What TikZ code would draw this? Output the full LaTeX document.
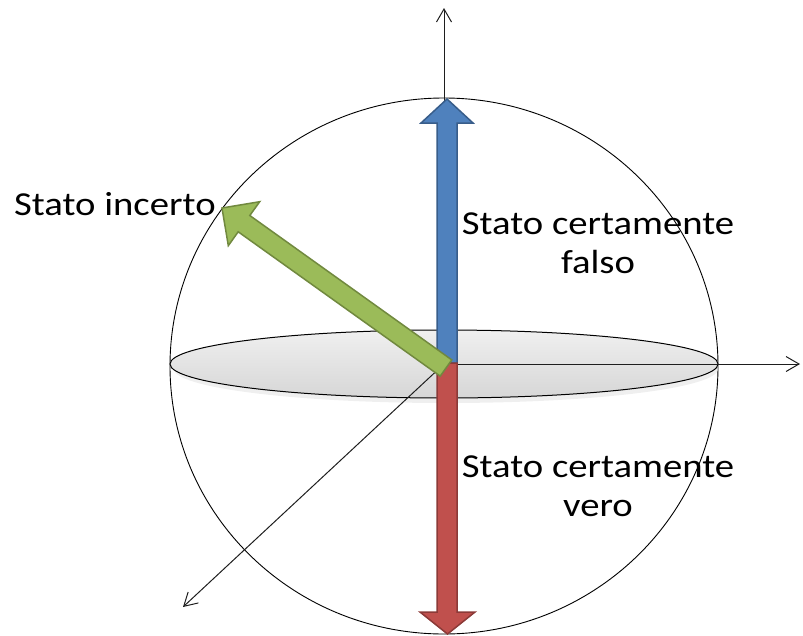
\documentclass[tikz,border=0pt]{standalone}
\usepackage{fontspec}
\setmainfont{Carlito}[FakeStretch=1.155]
\usetikzlibrary{arrows.meta,shadows}
\definecolor{bfill}{RGB}{79,129,189}
\definecolor{bdraw}{RGB}{56,93,138}
\definecolor{rfill}{RGB}{192,80,77}
\definecolor{rdraw}{RGB}{140,58,56}
\definecolor{gfill}{RGB}{155,187,89}
\definecolor{gdraw}{RGB}{113,137,63}
\definecolor{axcol}{RGB}{30,30,30}
\tikzset{
  axisline/.style={draw=axcol, line width=1pt, -{Straight Barb[length=13pt,width=15pt,line width=1pt]}},
  fatarrow/.style={line width=1.5pt, line join=miter},
  lbl/.style={inner sep=0pt, font=\fontsize{33.5}{39}\selectfont, text=black},
}
\begin{document}
\begin{tikzpicture}[x=1pt,y=-1pt]
\useasboundingbox (0,0) rectangle (803,635);
\coordinate (O) at (444,364);
\coordinate (top) at (444,8);
\coordinate (right) at (800,364);
\coordinate (diag) at (183,607);
% sphere
\draw[line width=0.9pt] (444,366) ellipse [x radius=274, y radius=268];
% disk
\fill[gray!25, opacity=0.5] (446,369) ellipse [x radius=272, y radius=34];
\draw[line width=1pt, top color=gray!12, bottom color=gray!32] (O) ellipse [x radius=274, y radius=34];
% axes
\draw[axisline] (O) -- (top);
\draw[axisline] (O) -- (right);
\draw[axisline] (O) -- (diag);
% blue arrow
\filldraw[fatarrow, fill=bfill, draw=bdraw] (437,363) -- (437,123) -- (421,123) -- (447,99) -- (473,123) -- (457,123) -- (457,363) -- cycle;
% red arrow
\filldraw[fatarrow, fill=rfill, draw=rdraw] (437,363) -- (437,612) -- (420,612) -- (447.5,634) -- (475,612) -- (457,612) -- (457,363) -- cycle;
% green arrow
\filldraw[fatarrow, fill=gfill, draw=gdraw] (451.8,359.9) -- (249.8,215.5) -- (259.7,201.7) -- (222,208) -- (228.3,245.7) -- (238.2,231.8) -- (440.2,376.1) -- cycle;
% labels
\node[lbl, anchor=base west] (inc) at (14,215) {Stato incerto};
\node[lbl, anchor=base, align=center] (fal) at (598,273) {Stato certamente\\falso};
\node[lbl, anchor=base, align=center] (ver) at (598,516) {Stato certamente\\vero};
\end{tikzpicture}
\end{document}
